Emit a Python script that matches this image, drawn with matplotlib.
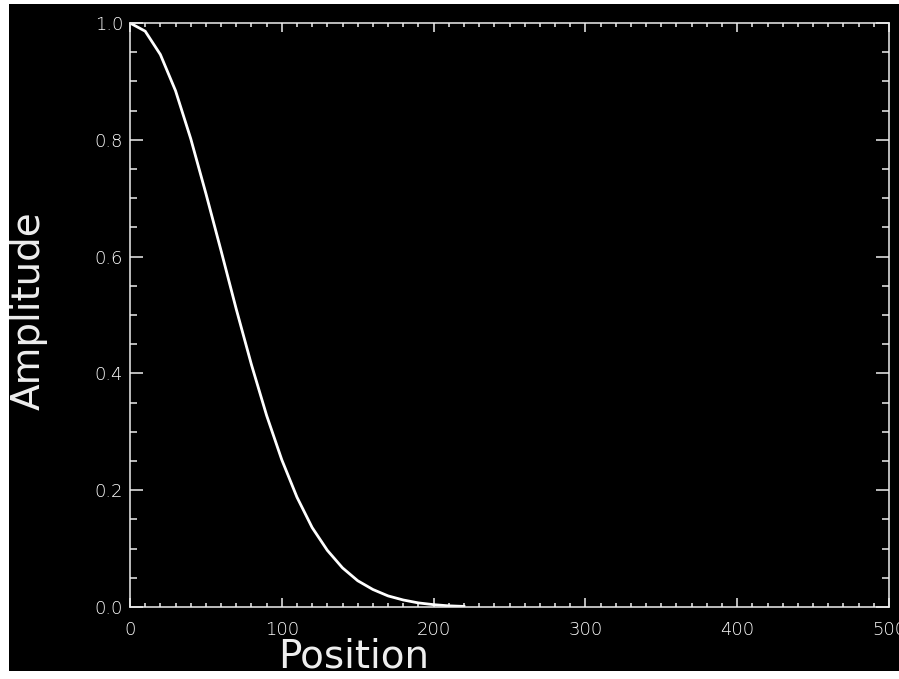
import numpy as np
import matplotlib.pyplot as plt
from matplotlib.patches import Rectangle
from matplotlib.ticker import MultipleLocator, FormatStrFormatter

# Values
position = [0, 10, 20, 30, 40, 50, 60, 70, 80, 90, 100, 110, 120,
            130, 140, 150, 160, 170, 180, 190, 200, 210, 220]
amplitude = [1.0, 0.986, 0.946, 0.884, 0.802, 0.708, 0.610, 0.510, 0.415,
             0.328, 0.252, 0.188, 0.136, 0.097, 0.067, 0.045, 0.030, 0.019,
             0.012, 0.007, 0.004, 0.002, 0.001]

xticks = [0, 100, 200, 300, 400, 500]
yticks = [0.0, 0.2, 0.4, 0.6, 0.8, 1.0]

plt.rcParams['font.family'] = ['DejaVu Sans']
plt.rcParams['font.weight'] = 'ultralight'

W, H = 899, 679
fig = plt.figure(figsize=(W / 100, H / 100), dpi=100, facecolor='white')

# black plotting window with thin white margin
bg = Rectangle((9 / W, 8 / H), 1 - 9 / W, 1 - 12 / H,
               transform=fig.transFigure, facecolor='black',
               edgecolor='none', zorder=-10)
fig.add_artist(bg)

ax = fig.add_axes([130 / W, 1 - 607 / H, 759 / W, 584 / H])
ax.set_zorder(1)
ax.set_facecolor('black')

ax.plot(position, amplitude, color='white', lw=2.0, solid_joinstyle='miter')

ax.set_xlim(0, 500)
ax.set_ylim(0, 1.0)
ax.set_xticks(xticks)
ax.set_yticks(yticks)
ax.xaxis.set_minor_locator(MultipleLocator(10))
ax.yaxis.set_minor_locator(MultipleLocator(0.05))
ax.yaxis.set_major_formatter(FormatStrFormatter('%.1f'))

for s in ax.spines.values():
    s.set_color('#eeeeee')
    s.set_linewidth(1.1)

ax.tick_params(axis='both', which='both', direction='in', colors='#eeeeee',
               labelcolor='white', top=True, right=True, width=1.1,
               labelsize=13)
ax.tick_params(axis='x', which='major', length=6.8, pad=10)
ax.tick_params(axis='x', which='minor', length=3)
ax.tick_params(axis='y', which='major', length=9.4, pad=5)
ax.tick_params(axis='y', which='minor', length=4.7)

ax.set_xlabel('Position', color='#eeeeee', fontsize=28, va='center')
ax.xaxis.set_label_coords(0.295, -0.085)
ax.set_ylabel('Amplitude', color='#eeeeee', fontsize=28, va='center')
ax.yaxis.set_label_coords(-0.134, 0.507)

fig.savefig('out.png', dpi=100, facecolor='white')
